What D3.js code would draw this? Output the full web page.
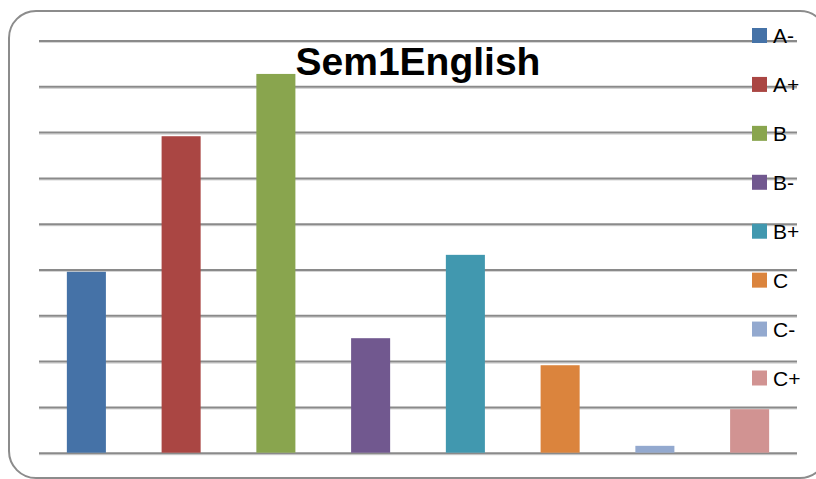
<!DOCTYPE html>
<html>
<head>
<meta charset="utf-8">
<script src="https://cdn.jsdelivr.net/npm/d3@7"></script>
<style>
  html, body { margin: 0; padding: 0; background: #fff; }
  svg { display: block; }
</style>
</head>
<body>
<svg id="chart" width="816" height="479"></svg>
<script>
// Grade distribution for Sem1 English
const grades = ["A-", "A+", "B", "B-", "B+", "C", "C-", "C+"];
const counts = [3.95, 6.91, 8.27, 2.5, 4.32, 1.91, 0.15, 0.95];
const colors = ["#4572A7", "#AA4643", "#89A54E", "#71588F", "#4198AF", "#DB843D", "#93A9CF", "#D19392"];
const gridTicks = [0, 1, 2, 3, 4, 5, 6, 7, 8, 9];
const chartTitle = "Sem1English";

const svg = d3.select("#chart");

// rounded chart frame
svg.append("rect")
  .attr("x", 9).attr("y", 11)
  .attr("width", 818).attr("height", 467)
  .attr("rx", 27).attr("ry", 27)
  .attr("fill", "#fff")
  .attr("stroke", "#8c8c8c")
  .attr("stroke-width", 2);

const plot = { left: 39, right: 797, top: 40.5, bottom: 452.7 };

const x = d3.scaleBand()
  .domain(grades)
  .range([plot.left, plot.right])
  .paddingInner(0.588)
  .paddingOuter(0.294);

const y = d3.scaleLinear()
  .domain([0, 9])
  .range([plot.bottom, plot.top]);

// horizontal gridlines (light shadow under a darker line)
const gridShadow = svg.append("g")
  .attr("transform", `translate(${plot.left},1.5)`)
  .call(d3.axisLeft(y).tickValues(gridTicks).tickSize(-(plot.right - plot.left)).tickFormat(""));
gridShadow.select(".domain").remove();
gridShadow.selectAll(".tick line").attr("stroke", "#d6d6d6").attr("stroke-width", 1.2);

const grid = svg.append("g")
  .attr("transform", `translate(${plot.left},0)`)
  .call(d3.axisLeft(y).tickValues(gridTicks).tickSize(-(plot.right - plot.left)).tickFormat(""));
grid.select(".domain").remove();
grid.selectAll(".tick line").attr("stroke", "#8a8a8a").attr("stroke-width", 2);

// bars
svg.append("g").selectAll("rect")
  .data(grades)
  .join("rect")
  .attr("x", d => x(d))
  .attr("width", x.bandwidth())
  .attr("y", (d, i) => y(counts[i]))
  .attr("height", (d, i) => y(0) - y(counts[i]))
  .attr("fill", (d, i) => colors[i]);

// title
svg.append("text")
  .attr("x", (plot.left + plot.right) / 2)
  .attr("y", 75)
  .attr("text-anchor", "middle")
  .attr("font-family", "'Liberation Sans', Arial, sans-serif")
  .attr("font-weight", "bold")
  .attr("font-size", 39)
  .attr("fill", "#000")
  .text(chartTitle);

// legend
const legendRow = d3.scaleLinear().domain([0, 7]).range([35.5, 378]);
const legend = svg.append("g").selectAll("g")
  .data(grades)
  .join("g")
  .attr("transform", (d, i) => `translate(752,${legendRow(i)})`);

legend.append("rect")
  .attr("x", 0).attr("y", -7.5)
  .attr("width", 15).attr("height", 15)
  .attr("fill", (d, i) => colors[i]);

legend.append("text")
  .attr("x", 21)
  .attr("y", 7.5)
  .attr("font-family", "'Liberation Sans', Arial, sans-serif")
  .attr("font-size", 21)
  .attr("fill", "#000")
  .text(d => d);
</script>
</body>
</html>
